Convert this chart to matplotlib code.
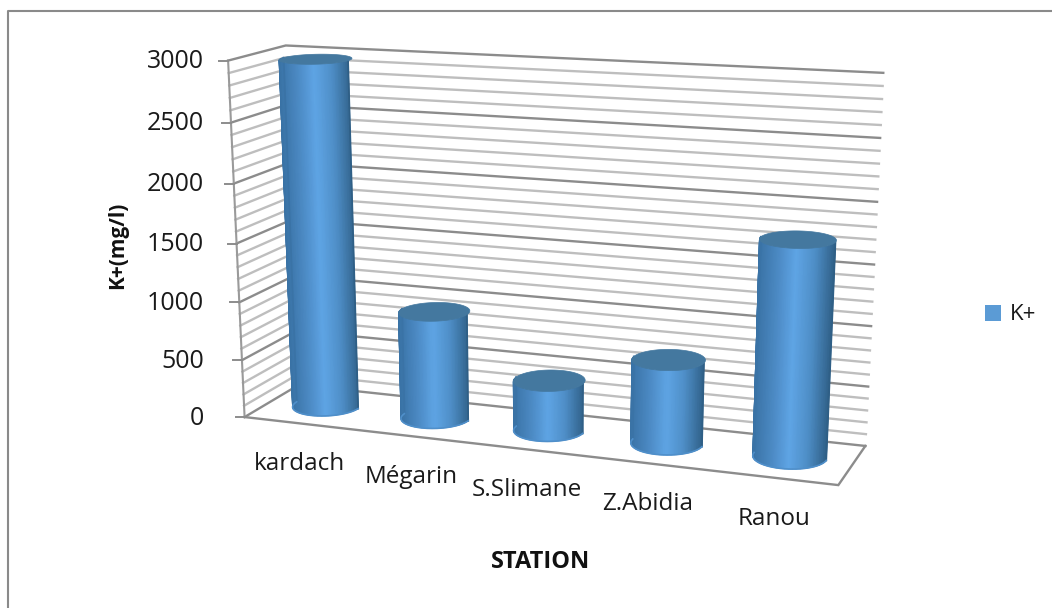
import numpy as np
import matplotlib
matplotlib.use('Agg')
import matplotlib.pyplot as plt
from matplotlib.colors import LinearSegmentedColormap
from matplotlib.patches import Patch, Polygon

plt.rcParams['font.family'] = ['Open Sans', 'DejaVu Sans']

stations = ['kardach', 'Mégarin', 'S.Slimane', 'Z.Abidia', 'Ranou']
k_values = [2965, 920, 425, 700, 1760]
major_ticks = [0, 500, 1000, 1500, 2000, 2500, 3000]
minor_step = 100
y_max = 3000

# box corners (category, depth, height) and where they sit on the picture
box_corners = [(0, 0, 0), (1, 0, 0), (0, 1, 0), (1, 1, 0), (0, 0, 1), (0, 1, 1), (1, 1, 1)]
box_pixels = [(246, 414), (839, 487), (297, 388), (865, 444), (226, 62), (288, 44), (883, 73)]


def fit_camera(corners, pixels):
    rows = []
    rhs = []
    for (X, Y, Z), (px, py) in zip(corners, pixels):
        rows.append([X, Y, Z, 1, 0, 0, 0, 0, -px * X, -px * Y, -px * Z])
        rhs.append(px)
        rows.append([0, 0, 0, 0, X, Y, Z, 1, -py * X, -py * Y, -py * Z])
        rhs.append(py)
    sol = np.linalg.lstsq(np.array(rows, float), np.array(rhs, float), rcond=None)[0]
    return np.append(sol, 1.0).reshape(3, 4)


camera = fit_camera(box_corners, box_pixels)


def project(u, w, v):
    u, w, v = np.broadcast_arrays(u, w, v)
    pts = np.stack([u, w, v, np.ones_like(u, dtype=float)], axis=-1) @ camera.T
    return pts[..., 0] / pts[..., 2], pts[..., 1] / pts[..., 2]


fig = plt.figure(figsize=(10.52, 6.08), dpi=100)
ax = fig.add_axes([0, 0, 1, 1])
ax.set_xlim(0, 1052)
ax.set_ylim(608, 0)
ax.axis('off')

# outer chart frame, right and bottom are off the picture
ax.plot([7.5, 7.5, 1052], [608, 10.5, 10.5], color='#8a8a8a', lw=1.5, zorder=1)

# walls
for val in range(0, y_max + 1, minor_step):
    v = val / y_max
    major = val % 500 == 0
    col = '#8c8c8c' if major else '#bebebe'
    xs, ys = project([0, 0, 1], [0, 1, 1], [v, v, v])
    ax.plot(xs, ys, color=col, lw=1.7, zorder=2, solid_joinstyle='miter')

# left edge of the side wall, floor outline
xs, ys = project([0, 0], [0, 0], [0, 1])
ax.plot(xs, ys, color='#9a9a9a', lw=1.5, zorder=2)
xs, ys = project([0, 1, 1], [0, 0, 1], [0, 0, 0])
ax.plot(xs, ys, color='#8c8c8c', lw=1.7, zorder=2, solid_joinstyle='miter')

# tick marks and labels
for val in major_ticks:
    tx, ty = project(0, 0, val / y_max)
    ax.plot([tx - 9, tx], [ty, ty], color='#8c8c8c', lw=1.4, zorder=2)
    ax.text(204, ty + 1, str(val), ha='right', va='center', fontsize=18, color='#1a1a1a')

shade = LinearSegmentedColormap.from_list('cyl', [(0, '#3a73a6'), (0.25, '#4c8ac4'), (0.48, '#5fa5e5'),
                                                  (0.72, '#4f8fc8'), (1, '#2f5f86')])
radius_u = 0.0575
radius_w = 0.31
angles = np.linspace(0, 2 * np.pi, 361)

for i, val in enumerate(k_values):
    cu = (i + 0.5) / len(k_values)
    cu_pts = cu + radius_u * np.cos(angles)
    cw_pts = 0.54 + radius_w * np.sin(angles)
    h = val / y_max
    bx, by = project(cu_pts, cw_pts, 0)
    tx, ty = project(cu_pts, cw_pts, h)
    # front half of the side, smooth shading from left to right
    front = slice(180, 361, 6)
    grid_x = np.vstack([bx[front], tx[front]])
    grid_y = np.vstack([by[front], ty[front]])
    frac = (bx[front] - bx.min()) / (bx.max() - bx.min())
    grid_c = np.vstack([frac, frac])
    ax.pcolormesh(grid_x, grid_y, grid_c, shading='gouraud', cmap=shade, vmin=0, vmax=1, zorder=5)
    # gouraud edges are not antialiased, so stroke them
    ax.plot([bx[180], tx[180]], [by[180], ty[180]], color=shade(0.0), lw=1.3, zorder=5.5)
    ax.plot([bx[360], tx[360]], [by[360], ty[360]], color=shade(1.0), lw=1.3, zorder=5.5)
    ax.plot(bx[180:361], by[180:361], color='#4f8fca', lw=1.2, zorder=5.5)
    ax.add_patch(Polygon(np.column_stack([tx, ty]), closed=True, facecolor='#44789f', edgecolor='#44789f',
                         lw=0.5, zorder=6))

# category labels follow the front edge of the floor
for i, name in enumerate(stations):
    lx, ly = project((i + 0.5) / len(stations), 0, 0)
    ax.text(lx + 1, ly + 41, name, ha='center', va='center', fontsize=17.5, color='#1a1a1a')

ax.text(541, 562, 'STATION', ha='center', va='center', fontsize=17, fontweight='bold', color='#111111')
ax.text(118, 245, 'K+(mg/l)', ha='center', va='center', rotation=90, fontsize=15, fontweight='bold', color='#111111')

ax.legend(handles=[Patch(facecolor='#5b9bd5', label='K+')], loc='center left',
          bbox_to_anchor=(985, 315), bbox_transform=ax.transData, frameon=False, fontsize=16,
          handlelength=0.72, handleheight=0.72, handletextpad=0.4, borderaxespad=0, borderpad=0,
          labelcolor='#1a1a1a')

fig.savefig('out.png', dpi=100)
